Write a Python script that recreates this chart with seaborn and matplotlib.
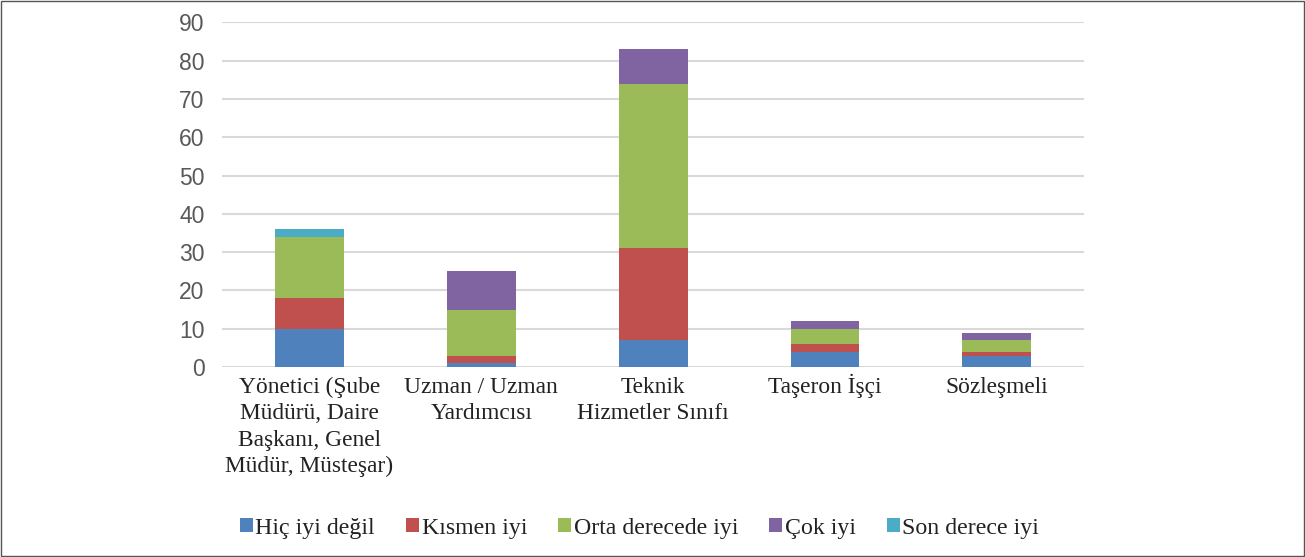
import matplotlib
matplotlib.use("Agg")
import matplotlib.pyplot as plt
import seaborn as sns
import pandas as pd
import numpy as np
from matplotlib.patches import Rectangle

categories = ["Yönetici (Şube\nMüdürü, Daire\nBaşkanı, Genel\nMüdür, Müsteşar)",
              "Uzman / Uzman\nYardımcısı",
              "Teknik\nHizmetler Sınıfı",
              "Taşeron İşçi",
              "Sözleşmeli"]
series_names = ["Hiç iyi değil", "Kısmen iyi", "Orta derecede iyi", "Çok iyi", "Son derece iyi"]
hic_iyi_degil = [10, 1, 7, 4, 3]
kismen_iyi = [8, 2, 24, 2, 1]
orta_derecede_iyi = [16, 12, 43, 4, 3]
cok_iyi = [0, 10, 9, 2, 2]
son_derece_iyi = [2, 0, 0, 0, 0]
yticks = [0, 10, 20, 30, 40, 50, 60, 70, 80, 90]

colors = ["#4F81BD", "#C0504D", "#9BBB59", "#8064A2", "#4BACC6"]
series = [hic_iyi_degil, kismen_iyi, orta_derecede_iyi, cok_iyi, son_derece_iyi]

sns.set_style("white")
fig = plt.figure(figsize=(13.05, 5.57), dpi=100)
ax = fig.add_axes([0.170, 0.341, 0.661, 0.619])

bottom = np.zeros(len(categories))
for name, vals, col in zip(series_names, series, colors):
    df = pd.DataFrame({"cat": categories, "val": vals})
    sns.barplot(data=df, x="cat", y="val", ax=ax, color=col, bottom=bottom,
                width=0.4, label=name, saturation=1, errorbar=None, linewidth=0)
    bottom = bottom + np.array(vals)

handles, labels = ax.get_legend_handles_labels()
if ax.legend_ is not None:
    ax.legend_.remove()

ax.set_ylim(0, 90)
ax.set_xlim(-0.51, 4.51)
ax.set_yticks(yticks)
ax.set_yticklabels([str(t) for t in yticks], fontsize=16.5, family="Liberation Sans", color="#595959")
ax.set_xticks(range(len(categories)))
ax.set_xticklabels([""] * len(categories))
ax_h_px = 0.619 * 557
for i, c in enumerate(categories):
    for k, line in enumerate(c.split("\n")):
        ax.text(i, -(26 + 26.3 * k) / ax_h_px, line, transform=ax.get_xaxis_transform(),
                ha="center", va="baseline", fontsize=16.8, family="Liberation Serif",
                color="#222222")
ax.tick_params(axis="x", length=0)
ax.tick_params(axis="y", length=0, pad=12.5)
ax.yaxis.grid(True, color="#D9D9D9", linewidth=1.5)
ax.set_axisbelow(True)
for s in ax.spines.values():
    s.set_visible(False)
ax.set_xlabel("")
ax.set_ylabel("")

leg = fig.legend(handles, labels, loc="center", bbox_to_anchor=(0.49, 0.052), ncol=5,
                 frameon=False, prop={"family": "Liberation Serif", "size": 17.2},
                 handlelength=0.55, handleheight=0.55, handletextpad=0.1, columnspacing=1.3,
                 labelcolor="#222222")

fig.patches.append(Rectangle((0.001, 0.002), 0.998, 0.996, transform=fig.transFigure,
                             fill=False, edgecolor="#555555", linewidth=1.0))

fig.savefig("out.png", dpi=100)
